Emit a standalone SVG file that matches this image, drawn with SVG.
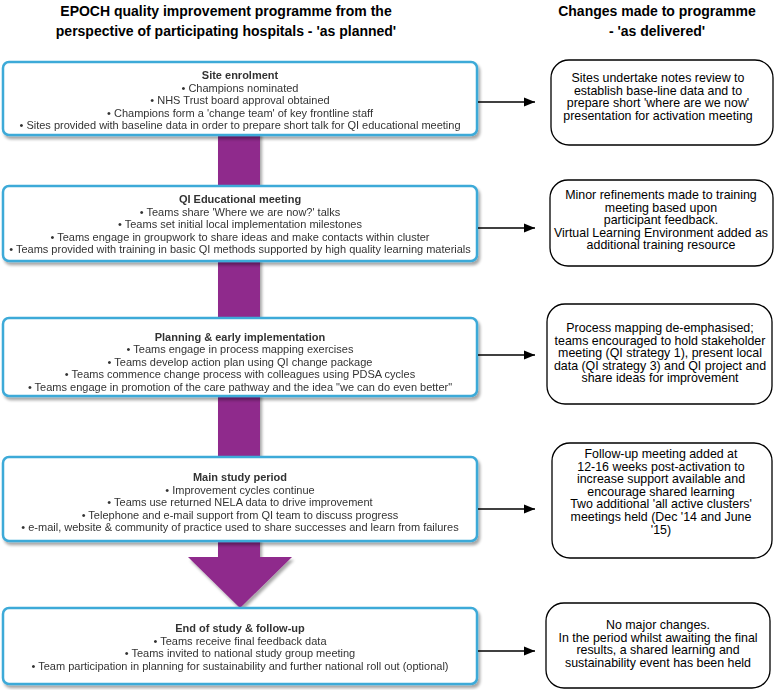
<svg xmlns="http://www.w3.org/2000/svg" width="778" height="690" viewBox="0 0 778 690">
<defs>
<marker id="ah" viewBox="0 0 10 10" refX="10" refY="5" markerWidth="11" markerHeight="11" markerUnits="userSpaceOnUse" orient="auto"><path d="M0,1 L10,5 L0,9 z" fill="#000"/></marker>
<filter id="sh" x="-5%" y="-10%" width="110%" height="130%"><feGaussianBlur in="SourceAlpha" stdDeviation="1.5"/><feOffset dx="2" dy="3"/><feComponentTransfer><feFuncA type="linear" slope="0.35"/></feComponentTransfer><feMerge><feMergeNode/><feMergeNode in="SourceGraphic"/></feMerge></filter>
</defs>
<style>
.hd{font-family:"Liberation Sans",Arial,sans-serif;font-size:14px;font-weight:bold;fill:#000;text-anchor:middle}
.lb{fill:#fff;stroke:#3eaad8;stroke-width:2.5}
.lt{font-family:"Liberation Sans",Arial,sans-serif;font-size:11px;fill:#333;text-anchor:middle}
.lt .b{font-weight:bold;font-size:11px}
.rb{fill:#fff;stroke:#000;stroke-width:1.3}
.rt{font-family:"Liberation Sans",Arial,sans-serif;font-size:12.4px;fill:#000;text-anchor:middle}
.cn{stroke:#000;stroke-width:1.5;fill:none;marker-end:url(#ah)}
</style>
<rect width="778" height="690" fill="#fff"/>
<g id="headers">
<text class="hd" x="226" y="16">EPOCH quality improvement programme from the</text>
<text class="hd" x="226" y="36">perspective of participating hospitals - 'as planned'</text>
<text class="hd" x="657" y="16">Changes made to programme</text>
<text class="hd" x="657" y="36">- 'as delivered'</text>
</g>
<g id="flow-arrow" filter="url(#sh)">
<path d="M218,130 L260,130 L260,557 L292,557 L240,608 L188,557 L218,557 z" fill="#8f2a8c"/>
</g>
<g id="plan-1" filter="url(#sh)">
<rect class="lb" x="3" y="62" width="474" height="73" rx="6"/>
<text class="lt" x="240" y="79"><tspan class="b">Site enrolment</tspan><tspan x="240" dy="12.6">• Champions nominated</tspan><tspan x="240" dy="12.6">• NHS Trust board approval obtained</tspan><tspan x="240" dy="12.6">• Champions form a 'change team' of key frontline staff</tspan><tspan x="240" dy="12.6">• Sites provided with baseline data in order to prepare short talk for QI educational meeting</tspan></text>
</g>
<g id="plan-2" filter="url(#sh)">
<rect class="lb" x="3" y="186" width="474" height="75" rx="6"/>
<text class="lt" x="240" y="203"><tspan class="b">QI Educational meeting</tspan><tspan x="240" dy="12.6">• Teams share 'Where we are now?' talks</tspan><tspan x="240" dy="12.6">• Teams set initial local implementation milestones</tspan><tspan x="240" dy="12.6">• Teams engage in groupwork to share ideas and make contacts within cluster</tspan><tspan x="240" dy="12.6">• Teams provided with training in basic QI methods supported by high quality learning materials</tspan></text>
</g>
<g id="plan-3" filter="url(#sh)">
<rect class="lb" x="3" y="318" width="474" height="78" rx="6"/>
<text class="lt" x="240" y="341"><tspan class="b">Planning &amp; early implementation</tspan><tspan x="240" dy="12.4">• Teams engage in process mapping exercises</tspan><tspan x="240" dy="12.4">• Teams develop action plan using QI change package</tspan><tspan x="240" dy="12.4">• Teams commence change process with colleagues using PDSA cycles</tspan><tspan x="240" dy="12.4">• Teams engage in promotion of the care pathway and the idea "we can do even better"</tspan></text>
</g>
<g id="plan-4" filter="url(#sh)">
<rect class="lb" x="3" y="457" width="474" height="84" rx="6"/>
<text class="lt" x="240" y="481"><tspan class="b">Main study period</tspan><tspan x="240" dy="12.5">• Improvement cycles continue</tspan><tspan x="240" dy="12.5">• Teams use returned NELA data to drive improvement</tspan><tspan x="240" dy="12.5">• Telephone and e-mail support from QI team to discuss progress</tspan><tspan x="240" dy="12.5">• e-mail, website &amp; community of practice used to share successes and learn from failures</tspan></text>
</g>
<g id="plan-5" filter="url(#sh)">
<rect class="lb" x="3" y="608" width="474" height="76" rx="6"/>
<text class="lt" x="240" y="632"><tspan class="b">End of study &amp; follow-up</tspan><tspan x="240" dy="12.5">• Teams receive final feedback data</tspan><tspan x="240" dy="12.5">• Teams invited to national study group meeting</tspan><tspan x="240" dy="12.5">• Team participation in planning for sustainability and further national roll out (optional)</tspan></text>
</g>
<g id="connectors">
<line class="cn" x1="478" y1="102" x2="535" y2="102"/>
<line class="cn" x1="478" y1="228" x2="535" y2="228"/>
<line class="cn" x1="478" y1="355" x2="535" y2="355"/>
<line class="cn" x1="478" y1="509" x2="535" y2="509"/>
<line class="cn" x1="478" y1="651" x2="535" y2="651"/>
</g>
<g id="change-1">
<rect class="rb" x="551" y="60" width="222" height="85" rx="18"/>
<text class="rt" x="658" y="82"><tspan>Sites undertake notes review to</tspan><tspan x="658" dy="12.6">establish base-line data and to</tspan><tspan x="658" dy="12.6">prepare short 'where are we now'</tspan><tspan x="658" dy="12.6">presentation for activation meeting</tspan></text>
</g>
<g id="change-2">
<rect class="rb" x="550" y="180" width="223" height="86" rx="18"/>
<text class="rt" x="661" y="199"><tspan>Minor refinements made to training</tspan><tspan x="661" dy="12.6">meeting based upon</tspan><tspan x="661" dy="12.6">participant feedback.</tspan><tspan x="661" dy="12.6">Virtual Learning Environment added as</tspan><tspan x="661" dy="12.6">additional training resource</tspan></text>
</g>
<g id="change-3">
<rect class="rb" x="547" y="304" width="225" height="100" rx="18"/>
<text class="rt" x="660" y="332"><tspan>Process mapping de-emphasised;</tspan><tspan x="660" dy="12.6">teams encouraged to hold stakeholder</tspan><tspan x="660" dy="12.6">meeting (QI strategy 1), present local</tspan><tspan x="660" dy="12.6">data (QI strategy 3) and QI project and</tspan><tspan x="660" dy="12.6">share ideas for improvement</tspan></text>
</g>
<g id="change-4">
<rect class="rb" x="552" y="443" width="220" height="115" rx="18"/>
<text class="rt" x="661" y="458"><tspan>Follow-up meeting added at</tspan><tspan x="661" dy="12.6">12-16 weeks post-activation to</tspan><tspan x="661" dy="12.6">increase support available and</tspan><tspan x="661" dy="12.6">encourage shared learning</tspan><tspan x="661" dy="12.6">Two additional 'all active clusters'</tspan><tspan x="661" dy="12.6">meetings held (Dec '14 and June</tspan><tspan x="661" dy="12.6">'15)</tspan></text>
</g>
<g id="change-5">
<rect class="rb" x="546" y="603" width="224" height="85" rx="18"/>
<text class="rt" x="658" y="629"><tspan>No major changes.</tspan><tspan x="658" dy="12.6">In the period whilst awaiting the final</tspan><tspan x="658" dy="12.6">results, a shared learning and</tspan><tspan x="658" dy="12.6">sustainability event has been held</tspan></text>
</g>
</svg>
